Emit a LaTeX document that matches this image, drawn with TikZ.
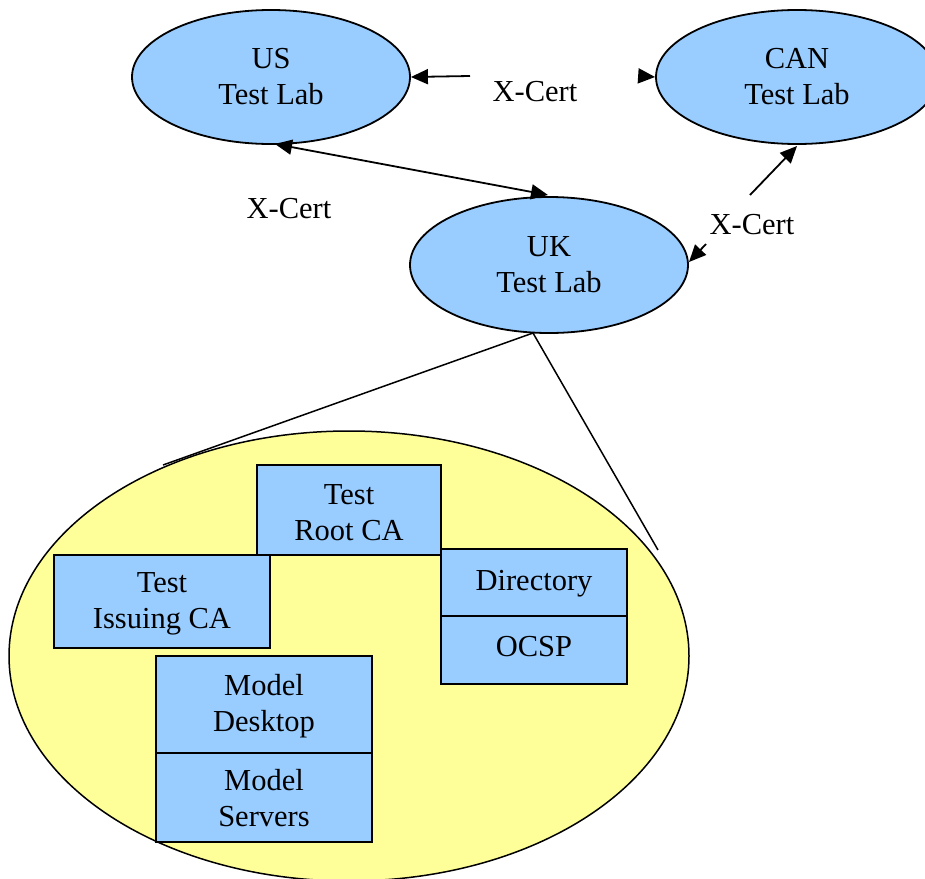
\documentclass[tikz,border=0pt]{standalone}
\usepackage{fontspec}
\setmainfont{Liberation Serif}
\usetikzlibrary{shapes.geometric,arrows.meta}
\definecolor{lblue}{RGB}{153,204,255}
\definecolor{lyellow}{RGB}{255,255,153}
\begin{document}
\begin{tikzpicture}[x=1pt,y=-1pt,
  lab/.style={ellipse,draw=black,line width=1.8pt,fill=lblue,minimum width=#1,minimum height=134pt,inner sep=0pt,align=center,font=\fontsize{30.5}{36}\selectfont},
  labx/.style={font=\fontsize{30.5}{36}\selectfont},
  box/.style={draw=black,line width=1.5pt,fill=lblue,inner sep=0pt},
  boxtxt/.style={inner sep=0pt,align=center,font=\fontsize{30.5}{36}\selectfont},
  arr/.style={line width=1.8pt,-{Triangle[length=17pt,width=15pt]}},
  darr/.style={line width=1.8pt,{Triangle[length=17pt,width=15pt]}-{Triangle[length=17pt,width=15pt]}}]
\useasboundingbox (0,0) rectangle (925,878);
% yellow zoom ellipse
\node[ellipse,draw=black,line width=1.5pt,fill=lyellow,minimum width=680pt,minimum height=450pt,inner sep=0pt] (zoom) at (349,656) {};
% lab ellipses
\node[lab=278pt] (us) at (271,77) {US\\Test Lab};
\node[lab=282pt] (can) at (797,77) {CAN\\Test Lab};
\node[lab=278pt,minimum height=136pt] (uk) at (549,265) {UK\\Test Lab};
% zoom lines
\coordinate (zl) at (163,465);
\coordinate (zr) at (658,550);
\coordinate (ukb) at (533,333);
\draw[line width=1.5pt] (zl) -- (ukb) -- (zr);
% X-Cert labels
\node[labx] (xc1) at (535,92) {X-Cert};
\node[labx] (xc2) at (289,209) {X-Cert};
\node[labx] (xc3) at (752,225) {X-Cert};
% arrows
\coordinate (a1) at (470,76);
\coordinate (a2) at (640,76);
\draw[arr] (a1) -- (us.east);
\draw[arr] (a2) -- (can.west);
\coordinate (c1) at (275,144);
\coordinate (c2) at (548,195);
\draw[darr] (c1) -- (c2);
\coordinate (b1) at (750,195);
\coordinate (b1e) at (797,146);
\coordinate (b2) at (706,244);
\coordinate (b2e) at (689,262);
\draw[arr] (b1) -- (b1e);
\draw[arr] (b2) -- (b2e);
% boxes
\node[box,minimum width=184pt,minimum height=90pt] (root) at (349,510) {};
\node[box,minimum width=216pt,minimum height=93pt] (issuing) at (162,601.5) {};
\node[box,minimum width=186pt,minimum height=67pt] (dir) at (534,582.5) {};
\node[box,minimum width=186pt,minimum height=68pt] (ocsp) at (534,650) {};
\node[box,minimum width=216pt,minimum height=97pt] (desk) at (264,704.5) {};
\node[box,minimum width=216pt,minimum height=89pt] (serv) at (264,797.5) {};
\node[boxtxt] (roott) at ([yshift=-3pt]root.center) {Test\\Root CA};
\node[boxtxt] (issuingt) at ([yshift=-2pt]issuing.center) {Test\\Issuing CA};
\node[boxtxt] (dirt) at ([yshift=-1pt]dir.center) {Directory};
\node[boxtxt] (ocspt) at ([yshift=3pt]ocsp.center) {OCSP};
\node[boxtxt] (deskt) at ([yshift=-2pt]desk.center) {Model\\Desktop};
\node[boxtxt] (servt) at ([yshift=-1pt]serv.center) {Model\\Servers};
\end{tikzpicture}
\end{document}
